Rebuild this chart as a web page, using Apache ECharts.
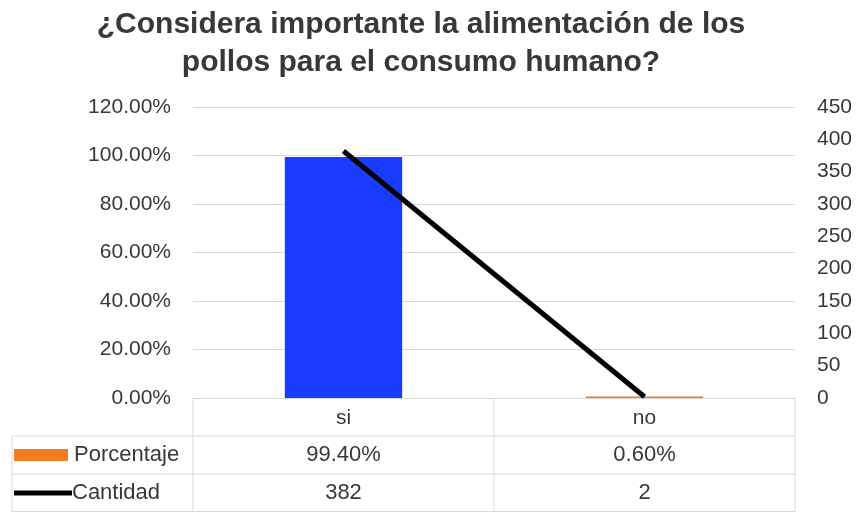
<!DOCTYPE html>
<html>
<head>
<meta charset="utf-8">
<script src="https://cdn.jsdelivr.net/npm/echarts@6/dist/echarts.min.js"></script>
<style>
  html, body { margin: 0; padding: 0; background: #fff; }
  #chart { width: 864px; height: 512px; }
</style>
</head>
<body>
<div id="chart"></div>
<script>
// Survey answers
const categories = ['si', 'no'];
const porcentaje = [0.994, 0.006];
const cantidad = [382, 2];
const porcentajeLabels = ['99.40%', '0.60%'];
const seriesNames = ['Porcentaje', 'Cantidad'];

const FONT = 'Liberation Sans';
const TEXT = '#383838';
const LINE = '#d9d9d9';
const BAR_COLORS = ['#1a3cff', '#f47b20'];

const chart = echarts.init(document.getElementById('chart'));

const grid = { left: 193, right: 69, top: 107, bottom: 114 };

chart.setOption({
  animation: false,
  title: {
    text: '¿Considera importante la alimentación de los\npollos para el consumo humano?',
    left: 416,
    top: 1,
    textAlign: 'center',
    textStyle: { fontFamily: FONT, fontSize: 30, fontWeight: 'bold', color: TEXT, lineHeight: 38 }
  },
  grid: grid,
  xAxis: {
    type: 'category',
    data: categories,
    axisLine: { lineStyle: { color: LINE, width: 1 } },
    axisTick: { show: false },
    axisLabel: { color: TEXT, fontFamily: FONT, fontSize: 21, margin: 10 }
  },
  yAxis: [
    {
      type: 'value', min: 0, max: 1.2, interval: 0.2,
      axisLine: { show: false }, axisTick: { show: false },
      splitLine: { lineStyle: { color: LINE } },
      axisLabel: { color: TEXT, fontFamily: FONT, fontSize: 21, margin: 22,
        formatter: v => (v * 100).toFixed(2) + '%' }
    },
    {
      type: 'value', min: 0, max: 450, interval: 50,
      axisLine: { show: false }, axisTick: { show: false },
      splitLine: { show: false },
      axisLabel: { color: TEXT, fontFamily: FONT, fontSize: 21, margin: 22 }
    }
  ],
  series: [
    {
      name: seriesNames[0], type: 'bar', yAxisIndex: 0, barWidth: '39%',
      data: porcentaje.map((v, i) => ({ value: v, itemStyle: { color: BAR_COLORS[i] } }))
    },
    {
      name: seriesNames[1], type: 'line', yAxisIndex: 1, data: cantidad,
      symbol: 'none', lineStyle: { color: '#000', width: 5 }, z: 5
    }
  ]
});

// Data table under the plot
function drawTable() {
  const x0 = grid.left, x1 = 864 - grid.right;
  const xs = categories.map((c, i) => chart.convertToPixel({ xAxisIndex: 0 }, i));
  const mid = (xs[0] + xs[1]) / 2;
  const yTop = 512 - grid.bottom;
  const rows = [yTop, 436, 474, 512];
  const labelLeft = 12;
  const els = [];
  const line = (xa, ya, xb, yb) => els.push({ type: 'line', shape: { x1: xa, y1: ya, x2: xb, y2: yb }, style: { stroke: LINE, lineWidth: 1 }, silent: true });
  // horizontal rules
  line(labelLeft, rows[1], x1, rows[1]);
  line(labelLeft, rows[2], x1, rows[2]);
  line(labelLeft, rows[3] - 0.5, x1, rows[3] - 0.5);
  // vertical rules
  [x0, mid, x1].forEach(x => line(x, rows[0], x, rows[3]));
  line(labelLeft, rows[1], labelLeft, rows[3]);

  const txt = (s, x, y, align) => els.push({ type: 'text', x: x, y: y, style: { text: s, fill: TEXT, font: '22px "' + FONT + '"', textAlign: align, textVerticalAlign: 'middle' }, silent: true });
  const rowMid = [(rows[1] + rows[2]) / 2, (rows[2] + rows[3]) / 2];
  // legend keys
  els.push({ type: 'rect', shape: { x: 14, y: rowMid[0] - 6, width: 54, height: 12 }, style: { fill: BAR_COLORS[1] }, silent: true });
  els.push({ type: 'line', shape: { x1: 14, y1: rowMid[1], x2: 72, y2: rowMid[1] }, style: { stroke: '#000', lineWidth: 5 }, silent: true });
  txt(seriesNames[0], 74, rowMid[0], 'left');
  txt(seriesNames[1], 72, rowMid[1], 'left');
  xs.forEach((x, i) => {
    txt(porcentajeLabels[i], x, rowMid[0], 'center');
    txt(String(cantidad[i]), x, rowMid[1], 'center');
  });
  chart.setOption({ graphic: els });
}
drawTable();
</script>
</body>
</html>
